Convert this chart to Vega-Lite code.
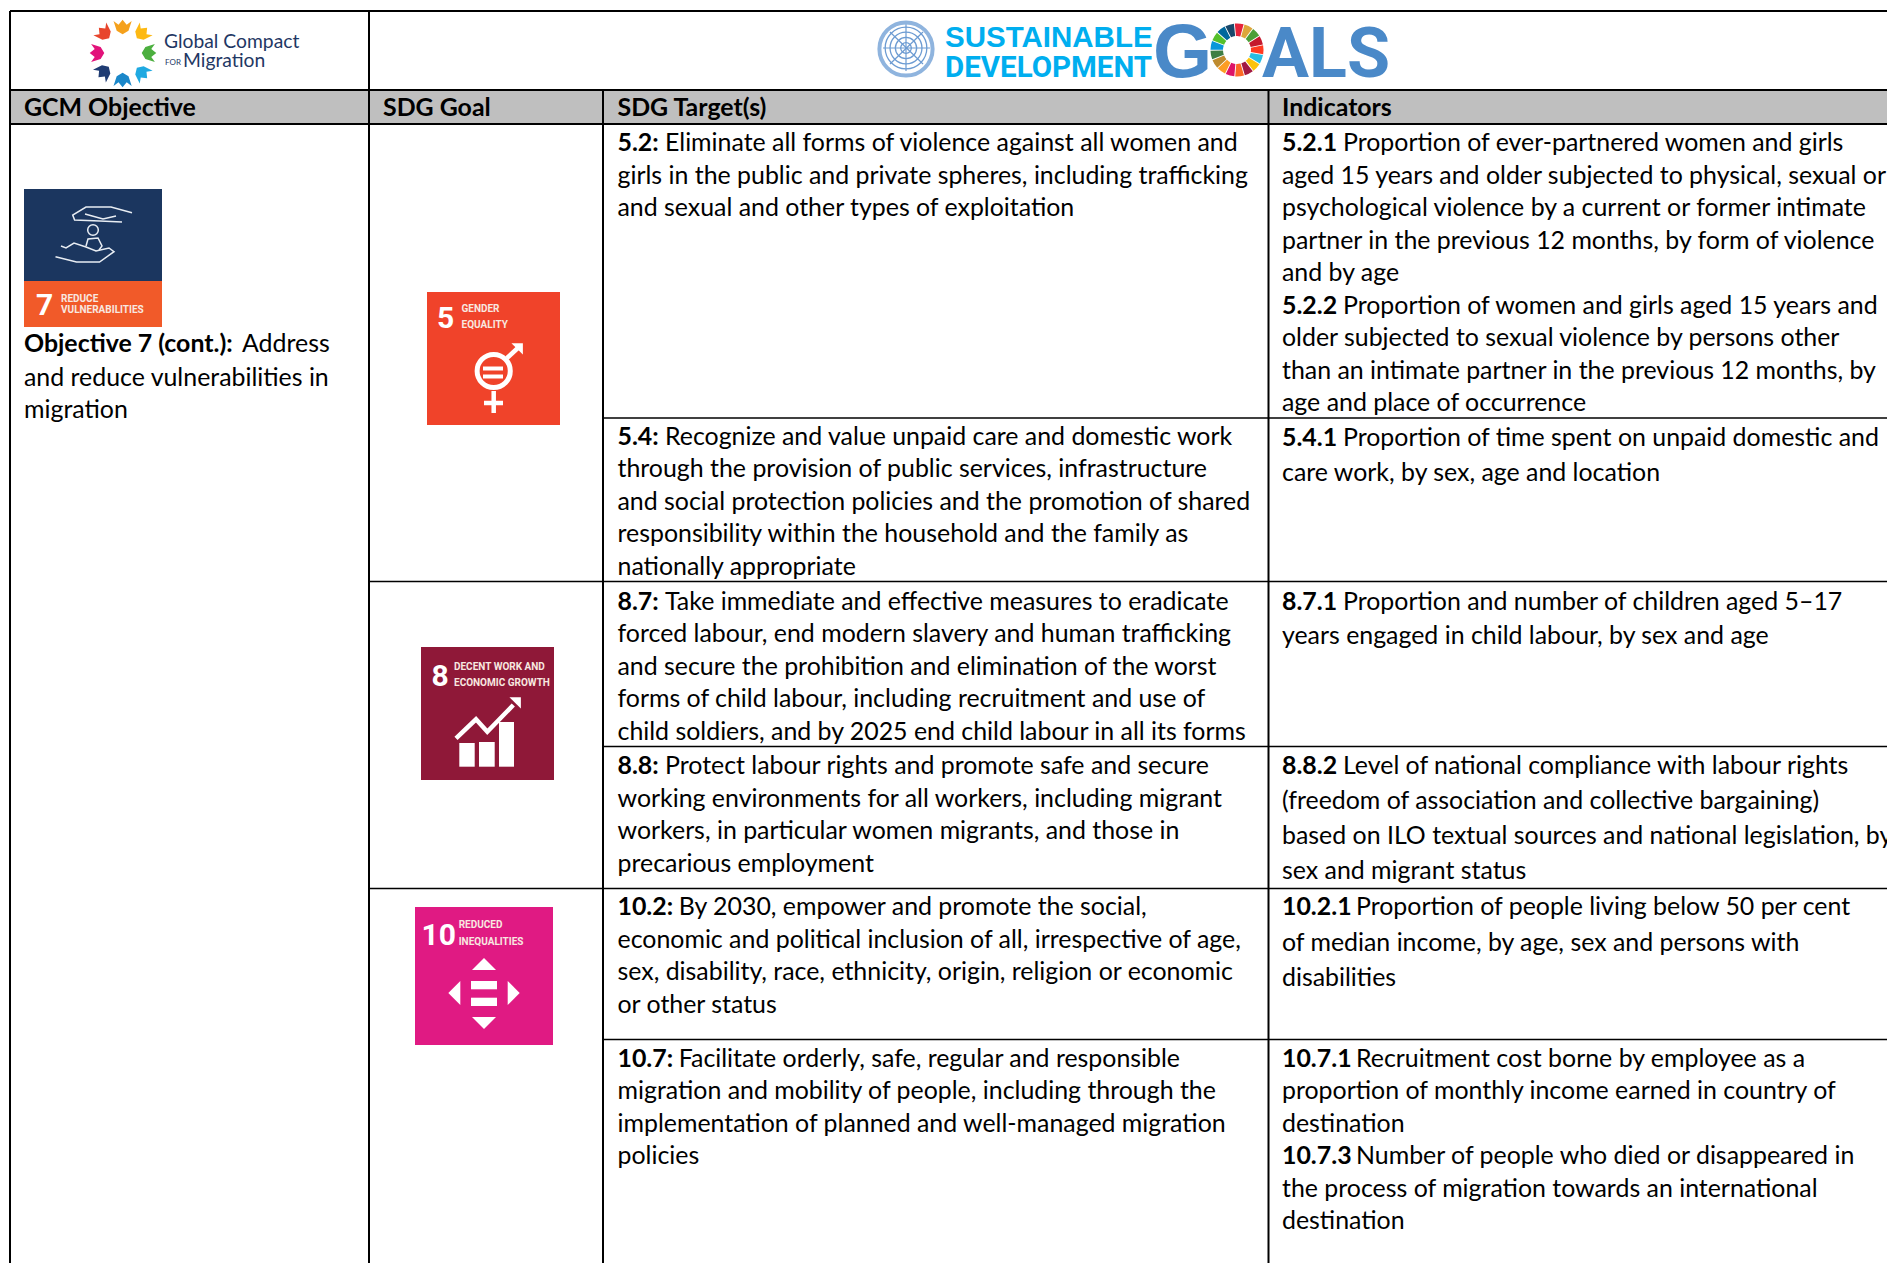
{"$schema":"https://vega.github.io/schema/vega-lite/v6.json","width":1887,"height":1263,"padding":0,"autosize":{"type":"none"},"background":"#ffffff","view":{"stroke":null},
"datasets":{
"boxes":[
{"name":"header","x":10,"x2":1887,"y":90,"y2":124},
{"name":"g7top","x":24,"x2":162,"y":189,"y2":281},
{"name":"g7bot","x":24,"x2":162,"y":281,"y2":327},
{"name":"g5","x":427,"x2":560,"y":292,"y2":425},
{"name":"g8","x":421,"x2":554,"y":647,"y2":780},
{"name":"g10","x":415,"x2":553,"y":907,"y2":1045},
{"name":"white","x":483,"x2":503,"y":366.5,"y2":370.5},
{"name":"white","x":483,"x2":503,"y":374.5,"y2":378.5},
{"name":"white","x":459.3,"x2":474.7,"y":743,"y2":766.7},
{"name":"white","x":479,"x2":494.7,"y":742,"y2":766.7},
{"name":"white","x":499,"x2":514,"y":722,"y2":766.7},
{"name":"white","x":471,"x2":497,"y":981,"y2":989.3},
{"name":"white","x":471,"x2":497,"y":997.7,"y2":1006}
],
"grid":[
{"kind":"outer","x":10,"x2":1887,"y":11,"y2":11},
{"kind":"outer","x":10,"x2":1887,"y":90,"y2":90},
{"kind":"outer","x":10,"x2":1887,"y":124,"y2":124},
{"kind":"outer","x":10,"x2":10,"y":11,"y2":1263},
{"kind":"outer","x":369,"x2":369,"y":11,"y2":1263},
{"kind":"outer","x":603,"x2":603,"y":90,"y2":1263},
{"kind":"outer","x":1268.5,"x2":1268.5,"y":90,"y2":1263},
{"kind":"inner","x":603,"x2":1887,"y":418,"y2":418},
{"kind":"inner","x":369,"x2":1887,"y":581.5,"y2":581.5},
{"kind":"inner","x":603,"x2":1887,"y":746.5,"y2":746.5},
{"kind":"inner","x":369,"x2":1887,"y":888.5,"y2":888.5},
{"kind":"inner","x":603,"x2":1887,"y":1039.5,"y2":1039.5}
],
"paths":[
{"path":"g5arrow","role":"thick","o":1,"x":507,"y":358},{"path":"g5arrow","role":"thick","o":2,"x":520,"y":346},
{"path":"g5v","role":"thick","o":1,"x":493.7,"y":391},{"path":"g5v","role":"thick","o":2,"x":493.7,"y":413},
{"path":"g5h","role":"thick","o":1,"x":484,"y":403},{"path":"g5h","role":"thick","o":2,"x":503,"y":403},
{"path":"g8","role":"thick","o":1,"x":456,"y":738.3},{"path":"g8","role":"thick","o":2,"x":476,"y":719.3},{"path":"g8","role":"thick","o":3,"x":487.3,"y":731.7},{"path":"g8","role":"thick","o":4,"x":513.3,"y":705},
{"path":"h1","role":"thin","o":1,"x":132,"y":212.7},{"path":"h1","role":"thin","o":2,"x":111,"y":207},{"path":"h1","role":"thin","o":3,"x":86,"y":207},{"path":"h1","role":"thin","o":4,"x":72.7,"y":215},{"path":"h1","role":"thin","o":5,"x":74.6,"y":220},{"path":"h1","role":"thin","o":6,"x":100,"y":221},{"path":"h1","role":"thin","o":7,"x":122,"y":222},
{"path":"h1b","role":"thin","o":1,"x":85,"y":214},{"path":"h1b","role":"thin","o":2,"x":103,"y":219},{"path":"h1b","role":"thin","o":3,"x":116,"y":216},
{"path":"h2","role":"thin","o":1,"x":55.5,"y":256.7},{"path":"h2","role":"thin","o":2,"x":76.5,"y":262},{"path":"h2","role":"thin","o":3,"x":99.5,"y":262},{"path":"h2","role":"thin","o":4,"x":114,"y":251.7},{"path":"h2","role":"thin","o":5,"x":109,"y":248},{"path":"h2","role":"thin","o":6,"x":96,"y":251},{"path":"h2","role":"thin","o":7,"x":86,"y":247},{"path":"h2","role":"thin","o":8,"x":74,"y":243},{"path":"h2","role":"thin","o":9,"x":66,"y":248},{"path":"h2","role":"thin","o":10,"x":61,"y":246},
{"path":"b","role":"thin","o":1,"x":86,"y":246},{"path":"b","role":"thin","o":2,"x":88,"y":239},{"path":"b","role":"thin","o":3,"x":98,"y":238},{"path":"b","role":"thin","o":4,"x":102,"y":246},{"path":"b","role":"thin","o":5,"x":99,"y":250},
{"path":"u1","role":"un","o":1,"x":906,"y":24},{"path":"u1","role":"un","o":2,"x":906,"y":71},
{"path":"u2","role":"un","o":1,"x":883,"y":48},{"path":"u2","role":"un","o":2,"x":930,"y":48},
{"path":"u3","role":"un","o":1,"x":890,"y":32},{"path":"u3","role":"un","o":2,"x":923,"y":64},
{"path":"u4","role":"un","o":1,"x":923,"y":32},{"path":"u4","role":"un","o":2,"x":890,"y":64}
],
"rings":[
{"role":"g5ring","area":1100,"x":493.7,"y":371},
{"role":"g7ring","area":113,"x":93,"y":230},
{"role":"un","area":1735,"x":906,"y":48},
{"role":"un","area":1018,"x":906,"y":48},
{"role":"un","area":452,"x":906,"y":48},
{"role":"un","area":113,"x":906,"y":48},
{"role":"wreath","area":2830,"x":906,"y":49}
],
"tris":[
{"x":484,"y":964,"rot":0,"area":576},
{"x":484,"y":1023,"rot":180,"area":576},
{"x":454.3,"y":993,"rot":270,"area":576},
{"x":513.7,"y":993,"rot":90,"area":576},
{"x":518,"y":700,"rot":45,"area":260},
{"x":520,"y":346,"rot":45,"area":260}
],
"petals":[
{"name":"orange","x":122.6,"y":27,"rot":0},
{"name":"yellow","x":142,"y":33,"rot":45},
{"name":"green","x":149,"y":53,"rot":90},
{"name":"sky","x":142,"y":73,"rot":135},
{"name":"blue","x":122.6,"y":80,"rot":180},
{"name":"navy","x":103.6,"y":72,"rot":225},
{"name":"magenta","x":97,"y":53,"rot":270},
{"name":"red","x":104,"y":33,"rot":315}
],
"wheel":[
{"goal":"01","a":0,"b":1,"x":1237,"y":50},{"goal":"02","a":1,"b":2,"x":1237,"y":50},{"goal":"03","a":2,"b":3,"x":1237,"y":50},{"goal":"04","a":3,"b":4,"x":1237,"y":50},{"goal":"05","a":4,"b":5,"x":1237,"y":50},{"goal":"06","a":5,"b":6,"x":1237,"y":50},{"goal":"07","a":6,"b":7,"x":1237,"y":50},{"goal":"08","a":7,"b":8,"x":1237,"y":50},{"goal":"09","a":8,"b":9,"x":1237,"y":50},{"goal":"10","a":9,"b":10,"x":1237,"y":50},{"goal":"11","a":10,"b":11,"x":1237,"y":50},{"goal":"12","a":11,"b":12,"x":1237,"y":50},{"goal":"13","a":12,"b":13,"x":1237,"y":50},{"goal":"14","a":13,"b":14,"x":1237,"y":50},{"goal":"15","a":14,"b":15,"x":1237,"y":50},{"goal":"16","a":15,"b":16,"x":1237,"y":50},{"goal":"17","a":16,"b":17,"x":1237,"y":50}
],
"logoSans":[
{"role":"sust","text":"SUSTAINABLE","x":945,"y":47},
{"role":"g","text":"G","x":1153,"y":77}
],
"logoNarrow":[
{"role":"sust","text":"DEVELOPMENT","x":945,"y":77},
{"role":"g","text":"ALS","x":1262,"y":77},
{"role":"num","text":"5","x":437,"y":328},
{"role":"cap","text":"GENDER","x":461.5,"y":312},
{"role":"cap","text":"EQUALITY","x":461.5,"y":328},
{"role":"num","text":"8","x":431.5,"y":686},
{"role":"cap","text":"DECENT WORK AND","x":454,"y":670},
{"role":"cap","text":"ECONOMIC GROWTH","x":454,"y":686},
{"role":"num","text":"10","x":421.5,"y":945},
{"role":"cap","text":"REDUCED","x":458.7,"y":928},
{"role":"cap","text":"INEQUALITIES","x":458.7,"y":945},
{"role":"num","text":"7","x":36,"y":315},
{"role":"cap","text":"REDUCE","x":61,"y":302},
{"role":"cap","text":"VULNERABILITIES","x":61,"y":313}
],
"logoLato":[
{"role":"compact","text":"Global Compact","x":164,"y":48},
{"role":"mig","text":"Migration","x":183,"y":67},
{"role":"for","text":"FOR","x":165,"y":65}
],
"bold":[
{"text":"GCM Objective","x":24,"y":115},
{"text":"SDG Goal","x":383,"y":115},
{"text":"SDG Target(s)","x":617.5,"y":115},
{"text":"Indicators","x":1282,"y":115},
{"text":"Objective 7 (cont.):","x":24,"y":351},
{"text":"5.2:","x":617.5,"y":150},
{"text":"5.4:","x":617.5,"y":443.6},
{"text":"8.7:","x":617.5,"y":608.5},
{"text":"8.8:","x":617.5,"y":773.4},
{"text":"10.2:","x":617.5,"y":914.2},
{"text":"10.7:","x":617.5,"y":1065.8},
{"text":"5.2.1","x":1282,"y":150},
{"text":"5.2.2","x":1282,"y":312.5},
{"text":"5.4.1","x":1282,"y":444.8},
{"text":"8.7.1","x":1282,"y":608.5},
{"text":"8.8.2","x":1282,"y":773.4},
{"text":"10.2.1","x":1282,"y":914.2},
{"text":"10.7.1","x":1282,"y":1065.8},
{"text":"10.7.3","x":1282,"y":1163.3}
],
"regular":[
{"text":"Address","x":242,"y":351},
{"text":"and reduce vulnerabilities in","x":24,"y":384.7},
{"text":"migration","x":24,"y":417.2},
{"text":"Eliminate all forms of violence against all women and","x":665,"y":150},
{"text":"girls in the public and private spheres, including trafficking","x":617.5,"y":182.5},
{"text":"and sexual and other types of exploitation","x":617.5,"y":215},
{"text":"Recognize and value unpaid care and domestic work","x":665,"y":443.6},
{"text":"through the provision of public services, infrastructure","x":617.5,"y":476},
{"text":"and social protection policies and the promotion of shared","x":617.5,"y":508.6},
{"text":"responsibility within the household and the family as","x":617.5,"y":541},
{"text":"nationally appropriate","x":617.5,"y":573.6},
{"text":"Take immediate and effective measures to eradicate","x":665,"y":608.5},
{"text":"forced labour, end modern slavery and human trafficking","x":617.5,"y":641},
{"text":"and secure the prohibition and elimination of the worst","x":617.5,"y":673.5},
{"text":"forms of child labour, including recruitment and use of","x":617.5,"y":706},
{"text":"child soldiers, and by 2025 end child labour in all its forms","x":617.5,"y":738.5},
{"text":"Protect labour rights and promote safe and secure","x":665,"y":773.4},
{"text":"working environments for all workers, including migrant","x":617.5,"y":805.9},
{"text":"workers, in particular women migrants, and those in","x":617.5,"y":838.3},
{"text":"precarious employment","x":617.5,"y":870.8},
{"text":"By 2030, empower and promote the social,","x":678.7,"y":914.2},
{"text":"economic and political inclusion of all, irrespective of age,","x":617.5,"y":946.7},
{"text":"sex, disability, race, ethnicity, origin, religion or economic","x":617.5,"y":979.1},
{"text":"or other status","x":617.5,"y":1011.6},
{"text":"Facilitate orderly, safe, regular and responsible","x":678.7,"y":1065.8},
{"text":"migration and mobility of people, including through the","x":617.5,"y":1098.3},
{"text":"implementation of planned and well-managed migration","x":617.5,"y":1130.8},
{"text":"policies","x":617.5,"y":1163.3},
{"text":"Proportion of ever-partnered women and girls","x":1343,"y":150},
{"text":"aged 15 years and older subjected to physical, sexual or","x":1282,"y":182.5},
{"text":"psychological violence by a current or former intimate","x":1282,"y":215},
{"text":"partner in the previous 12 months, by form of violence","x":1282,"y":247.5},
{"text":"and by age","x":1282,"y":280},
{"text":"Proportion of women and girls aged 15 years and","x":1343,"y":312.5},
{"text":"older subjected to sexual violence by persons other","x":1282,"y":345},
{"text":"than an intimate partner in the previous 12 months, by","x":1282,"y":377.5},
{"text":"age and place of occurrence","x":1282,"y":410},
{"text":"Proportion of time spent on unpaid domestic and","x":1343,"y":444.8},
{"text":"care work, by sex, age and location","x":1282,"y":479.7},
{"text":"Proportion and number of children aged 5–17","x":1343,"y":608.5},
{"text":"years engaged in child labour, by sex and age","x":1282,"y":643.4},
{"text":"Level of national compliance with labour rights","x":1343,"y":773.4},
{"text":"(freedom of association and collective bargaining)","x":1282,"y":808.3},
{"text":"based on ILO textual sources and national legislation, by","x":1282,"y":843.1},
{"text":"sex and migrant status","x":1282,"y":878},
{"text":"Proportion of people living below 50 per cent","x":1356,"y":914.2},
{"text":"of median income, by age, sex and persons with","x":1282,"y":950.2},
{"text":"disabilities","x":1282,"y":985.2},
{"text":"Recruitment cost borne by employee as a","x":1356,"y":1065.8},
{"text":"proportion of monthly income earned in country of","x":1282,"y":1098.3},
{"text":"destination","x":1282,"y":1130.8},
{"text":"Number of people who died or disappeared in","x":1356,"y":1163.3},
{"text":"the process of migration towards an international","x":1282,"y":1195.8},
{"text":"destination","x":1282,"y":1228.3}
]
},
"encoding":{
"x":{"field":"x","type":"quantitative","scale":{"domain":[0,1887],"nice":false,"zero":false},"axis":null},
"y":{"field":"y","type":"quantitative","scale":{"domain":[1263,0],"nice":false,"zero":false},"axis":null}
},
"resolve":{"scale":{"color":"independent","size":"independent","strokeWidth":"independent","theta":"independent"}},
"layer":[
{"data":{"name":"boxes"},"mark":{"type":"rect"},"encoding":{"x2":{"field":"x2"},"y2":{"field":"y2"},
"color":{"field":"name","type":"nominal","legend":null,"scale":{"domain":["header","g7top","g7bot","g5","g8","g10","white"],"range":["#BFBFBF","#1B365F","#F15A29","#F0432A","#8F1838","#E01A83","#FFFFFF"]}}}},
{"data":{"name":"grid"},"mark":{"type":"rule","color":"#000000"},"encoding":{"x2":{"field":"x2"},"y2":{"field":"y2"},
"strokeWidth":{"field":"kind","type":"nominal","legend":null,"scale":{"type":"ordinal","domain":["outer","inner"],"range":[2,1.5]}}}},
{"data":{"name":"paths"},"mark":{"type":"line","interpolate":"linear"},"encoding":{"detail":{"field":"path"},"order":{"field":"o","type":"quantitative"},
"color":{"field":"role","type":"nominal","legend":null,"scale":{"domain":["thick","thin","un"],"range":["#FFFFFF","#E8EDF3","#6C9BD2"]}},
"strokeWidth":{"field":"role","type":"nominal","legend":null,"scale":{"type":"ordinal","domain":["thick","thin","un"],"range":[4.5,1.5,1.2]}}}},
{"data":{"name":"rings"},"mark":{"type":"point","shape":"circle","filled":false,"opacity":1},"encoding":{
"size":{"field":"area","type":"quantitative","scale":null},
"color":{"field":"role","type":"nominal","legend":null,"scale":{"domain":["g5ring","g7ring","un","wreath"],"range":["#FFFFFF","#E8EDF3","#6C9BD2","#8FB4DE"]}},
"strokeWidth":{"field":"role","type":"nominal","legend":null,"scale":{"type":"ordinal","domain":["g5ring","g7ring","un","wreath"],"range":[5,1.5,1.3,4]}}}},
{"data":{"name":"tris"},"mark":{"type":"point","filled":true,"opacity":1,"color":"#FFFFFF","shape":"M-1,0.5L0,-0.5L1,0.5Z"},"encoding":{
"size":{"field":"area","type":"quantitative","scale":null},"angle":{"field":"rot","type":"quantitative","scale":null}}},
{"data":{"name":"petals"},"mark":{"type":"point","filled":true,"opacity":1,"size":330,"shape":"M-1,-0.65L-0.45,-0.25L0,-0.8L0.45,-0.25L1,-0.65L0.65,0.4L0,0.8L-0.65,0.4Z"},"encoding":{
"angle":{"field":"rot","type":"quantitative","scale":null},
"color":{"field":"name","type":"nominal","legend":null,"scale":{"domain":["orange","yellow","green","sky","blue","navy","magenta","red"],"range":["#F5A11C","#FDB913","#4CAF3F","#1FA9E1","#1B87C9","#1F3C73","#E2127A","#E8452C"]}}}},
{"data":{"name":"wheel"},"mark":{"type":"arc","innerRadius":14,"outerRadius":26.5,"padAngle":0.03},"encoding":{
"theta":{"field":"a","type":"quantitative","scale":{"domain":[0,17],"range":[-0.1,6.183]}},
"theta2":{"field":"b"},
"color":{"field":"goal","type":"nominal","legend":null,"scale":{"domain":["01","02","03","04","05","06","07","08","09","10","11","12","13","14","15","16","17"],"range":["#E5243B","#DDA63A","#4C9F38","#C5192D","#FF3A21","#26BDE2","#FCC30B","#A21942","#FD6925","#DD1367","#FD9D24","#BF8B2E","#3F7E44","#0A97D9","#56C02B","#00689D","#19486A"]}}}},
{"data":{"name":"logoSans"},"mark":{"type":"text","align":"left","baseline":"alphabetic","font":"Liberation Sans","fontWeight":"bold"},"encoding":{"text":{"field":"text"},
"size":{"field":"role","type":"nominal","legend":null,"scale":{"type":"ordinal","domain":["sust","g"],"range":[29.5,76]}},
"color":{"field":"role","type":"nominal","legend":null,"scale":{"domain":["sust","g"],"range":["#00AEEF","#4A89C8"]}}}},
{"data":{"name":"logoNarrow"},"mark":{"type":"text","align":"left","baseline":"alphabetic","font":"Roboto","fontWeight":"bold"},"encoding":{"text":{"field":"text"},
"size":{"field":"role","type":"nominal","legend":null,"scale":{"type":"ordinal","domain":["sust","g","num","cap"],"range":[29.5,70,30,10]}},
"color":{"field":"role","type":"nominal","legend":null,"scale":{"domain":["sust","g","num","cap"],"range":["#00AEEF","#4A89C8","#FFFFFF","#F8E8E0"]}}}},
{"data":{"name":"logoLato"},"mark":{"type":"text","align":"left","baseline":"alphabetic","font":"Lato","color":"#1F3864"},"encoding":{"text":{"field":"text"},
"size":{"field":"role","type":"nominal","legend":null,"scale":{"type":"ordinal","domain":["compact","mig","for"],"range":[19.3,19.3,8]}}}},
{"data":{"name":"regular"},"mark":{"type":"text","align":"left","baseline":"alphabetic","font":"Lato","fontSize":24.9,"dy":1,"color":"#000000"},"encoding":{"text":{"field":"text"}}},
{"data":{"name":"bold"},"mark":{"type":"text","align":"left","baseline":"alphabetic","font":"Lato","fontWeight":"bold","fontSize":24.9,"dy":1,"color":"#000000"},"encoding":{"text":{"field":"text"}}}
]}
